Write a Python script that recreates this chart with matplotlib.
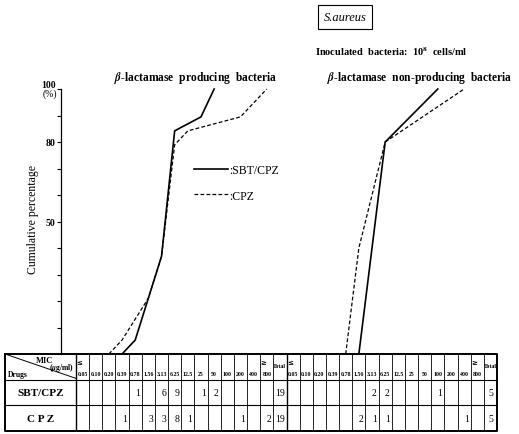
import numpy as np
import matplotlib
matplotlib.use('Agg')
import matplotlib.pyplot as plt
from matplotlib.lines import Line2D

plt.rcParams['font.family'] = ['Liberation Serif', 'DejaVu Serif']
plt.rcParams['font.weight'] = 'bold'
plt.rcParams['mathtext.fontset'] = 'stix'

# MIC classes (ug/ml), first is <=, last is >=
mic_labels = ['0.05', '0.10', '0.20', '0.39', '0.78', '1.56', '3.13', '6.25',
              '12.5', '25', '50', '100', '200', '400', '800']
drugs = ['SBT/CPZ', 'C P Z']

# beta-lactamase producing strains
prod_sbt = [0, 0, 0, 0, 1, 0, 6, 9, 0, 1, 2, 0, 0, 0, 0]
prod_cpz = [0, 0, 0, 1, 0, 3, 3, 8, 1, 0, 0, 0, 1, 0, 2]
# beta-lactamase non-producing strains
non_sbt = [0, 0, 0, 0, 0, 0, 2, 2, 0, 0, 0, 1, 0, 0, 0]
non_cpz = [0, 0, 0, 0, 0, 2, 1, 1, 0, 0, 0, 0, 0, 1, 0]

groups = [[prod_sbt, prod_cpz], [non_sbt, non_cpz]]


def cum_curve(counts, offset):
    counts = np.array(counts)
    idx = np.nonzero(counts)[0]
    pct = np.cumsum(counts[idx]) / counts.sum() * 100
    xs = np.concatenate([[idx[0] - 1], idx]) + offset + 0.5
    ys = np.concatenate([[0], pct])
    return xs, ys


# layout in pixels
W, H = 519, 435
tab_left, tab_right = 5, 497
first_col = 76
tab_top, tab_bot = 355, 432
ax_x, y100 = 61, 90
ncol_grp = len(mic_labels) + 1
ncol = 2 * ncol_grp
ppc = (tab_right - first_col) / ncol


def fx(px):
    return px / W


def fy(py):
    return 1 - py / H


fig = plt.figure(figsize=(W / 100, H / 100), dpi=100)

# ---- chart
ax = fig.add_axes([fx(ax_x), fy(tab_top), fx(tab_right) - fx(ax_x), fy(y100) - fy(tab_top)])
ax.set_xlim((ax_x - first_col) / ppc, ncol)
ax.set_ylim(0, 100)
for s in ['top', 'right', 'bottom']:
    ax.spines[s].set_visible(False)
ax.spines['left'].set_linewidth(0.9)
ax.set_xticks([])
ax.set_yticks(range(0, 101, 10))
ax.set_yticklabels(['' if v not in (50, 80) else str(v) for v in range(0, 101, 10)])
ax.tick_params(axis='y', direction='out', length=3, width=0.8, labelsize=7, pad=1)

for g, (sbt, cpz) in enumerate(groups):
    off = g * ncol_grp
    xs, ys = cum_curve(sbt, off)
    ax.plot(xs, ys, color='black', lw=1.2, clip_on=False)
    xs, ys = cum_curve(cpz, off)
    ax.plot(xs, ys, color='black', lw=0.9, ls=(0, (3, 1.8)), clip_on=False)

handles = [Line2D([], [], color='black', lw=1.2),
           Line2D([], [], color='black', lw=0.9, ls=(0, (3, 1.8)))]
ax.legend(handles, [':SBT/CPZ', ':CPZ'], loc='upper left',
          bbox_to_anchor=(fx(194), fy(165)), bbox_transform=fig.transFigure,
          frameon=False, prop={'size': 8.5, 'weight': 'normal'}, handlelength=2.9,
          handletextpad=0.1, labelspacing=1.15, borderpad=0, borderaxespad=0)

fig.text(fx(56), fy(85), '100', ha='right', va='center', fontsize=7)
fig.text(fx(57), fy(94), '(%)', ha='right', va='center', fontsize=7, fontweight='normal')
fig.text(fx(33), fy(219), 'Cumulative percentage', rotation=90, ha='center', va='center',
         fontsize=8.5, fontweight='normal')

fig.text(fx(196), fy(78), r'$\beta$-lactamase  producing  bacteria', ha='center', va='center', fontsize=8.3)
fig.text(fx(420), fy(78), r'$\beta$-lactamase  non-producing  bacteria', ha='center', va='center', fontsize=8.3)
fig.text(fx(391), fy(52), r'Inoculated  bacteria:  10$^{\mathbf{8}}$  cells/ml', ha='center', va='center',
         fontsize=7.5)
fig.text(fx(345), fy(18), 'S.aureus', ha='center', va='center', fontsize=9, style='italic',
         fontweight='normal',
         bbox=dict(boxstyle='square,pad=0.45', fc='white', ec='black', lw=0.8))

# ---- table
axt = fig.add_axes([fx(tab_left), fy(tab_bot), fx(tab_right) - fx(tab_left), fy(tab_top) - fy(tab_bot)])
x0 = (tab_left - first_col) / ppc
axt.set_xlim(x0, ncol)
axt.set_ylim(3, 0)
axt.axis('off')

axt.plot([x0, ncol, ncol, x0, x0], [0, 0, 3, 3, 0], color='black', lw=1.4, clip_on=False)
for r in (1, 2):
    axt.plot([x0, ncol], [r, r], color='black', lw=0.8)
for k in range(ncol):
    lw = 1.0 if k % ncol_grp == 0 else 0.6
    axt.plot([k, k], [0, 3], color='black', lw=lw)
axt.plot([x0, 0], [0, 0.95], color='black', lw=0.7)

axt.text(x0 * 0.45, 0.22, 'MIC', ha='center', va='center', fontsize=6)
axt.text(-0.15, 0.5, r'($\mu$g/ml)', ha='right', va='center', fontsize=5.5)
axt.text(x0 + 0.2, 0.78, 'Drugs', ha='left', va='center', fontsize=5.5)

for g, (sbt, cpz) in enumerate(groups):
    off = g * ncol_grp
    for i, lab in enumerate(mic_labels):
        axt.text(off + i + 0.5, 0.75, lab, ha='center', va='center', fontsize=4.2)
    axt.text(off + 0.25, 0.3, '≤', ha='center', va='center', fontsize=5, family='DejaVu Sans')
    axt.text(off + len(mic_labels) - 0.75, 0.3, '≥', ha='center', va='center', fontsize=5,
             family='DejaVu Sans')
    axt.text(off + len(mic_labels) + 0.5, 0.45, 'Total', ha='center', va='center', fontsize=4.3)
    for r, counts in enumerate([sbt, cpz]):
        for i, c in enumerate(counts):
            if c:
                axt.text(off + i + 0.85, r + 1.5, str(c), ha='right', va='center', fontsize=7,
                         fontweight='normal')
        axt.text(off + len(mic_labels) + 0.5, r + 1.5, str(sum(counts)), ha='center',
                 va='center', fontsize=7, fontweight='normal')

for r, d in enumerate(drugs):
    axt.text(x0 / 2, r + 1.5, d, ha='center', va='center', fontsize=8)

fig.savefig('out.png', dpi=100)
